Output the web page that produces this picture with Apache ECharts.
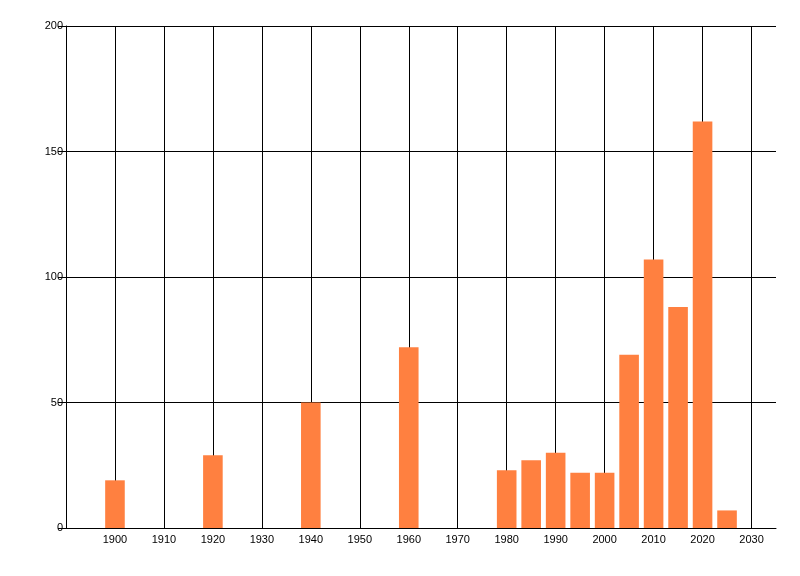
<!DOCTYPE html>
<html style="height: 100%">
<head>
  <meta charset="utf-8">
</head>
<body style="height: 100%; margin: 0; background: #fff">
  <div id="container" style="width: 800px; height: 576px"></div>

  <script type="text/javascript" src="https://cdn.jsdelivr.net/npm/echarts@6.0.0/dist/echarts.min.js"></script>
  <script type="text/javascript">
    // bar centre years and heights
    var years = [1900, 1920, 1940, 1960, 1980, 1985, 1990, 1995, 2000, 2005, 2010, 2015, 2020, 2025];
    var counts = [19, 29, 50, 72, 23, 27, 30, 22, 22, 69, 107, 88, 162, 7];

    var dom = document.getElementById("container");
    var myChart = echarts.init(dom);

    var points = years.map(function (y, i) { return [y, counts[i]]; });

    var labelFont = {
      color: '#000',
      fontFamily: 'Liberation Sans',
      fontSize: 11
    };

    var option = {
      animation: false,
      grid: {
        left: 66,
        right: 24,
        top: 26,
        bottom: 48
      },
      xAxis: {
        type: 'value',
        min: 1890,
        max: 2035,
        interval: 10,
        axisLine: { lineStyle: { color: '#000', width: 1 } },
        axisTick: { show: false },
        axisLabel: Object.assign({
          margin: 6,
          showMinLabel: false,
          showMaxLabel: false,
          formatter: function (v) { return String(v); }
        }, labelFont),
        splitLine: {
          show: true,
          showMinLine: false,
          showMaxLine: false,
          lineStyle: { color: '#000', width: 1 }
        }
      },
      yAxis: {
        type: 'value',
        min: 0,
        max: 200,
        interval: 50,
        axisLine: { show: true, lineStyle: { color: '#000', width: 1 } },
        axisTick: { show: true, length: 8, lineStyle: { color: '#000' } },
        axisLabel: Object.assign({ margin: 3 }, labelFont),
        splitLine: {
          show: true,
          showMinLine: false,
          lineStyle: { color: '#000', width: 1 }
        }
      },
      series: [
        {
          type: 'bar',
          data: points,
          barWidth: 19.6,
          itemStyle: { color: '#ff8040' }
        }
      ]
    };

    myChart.setOption(option);
  </script>
</body>
</html>
